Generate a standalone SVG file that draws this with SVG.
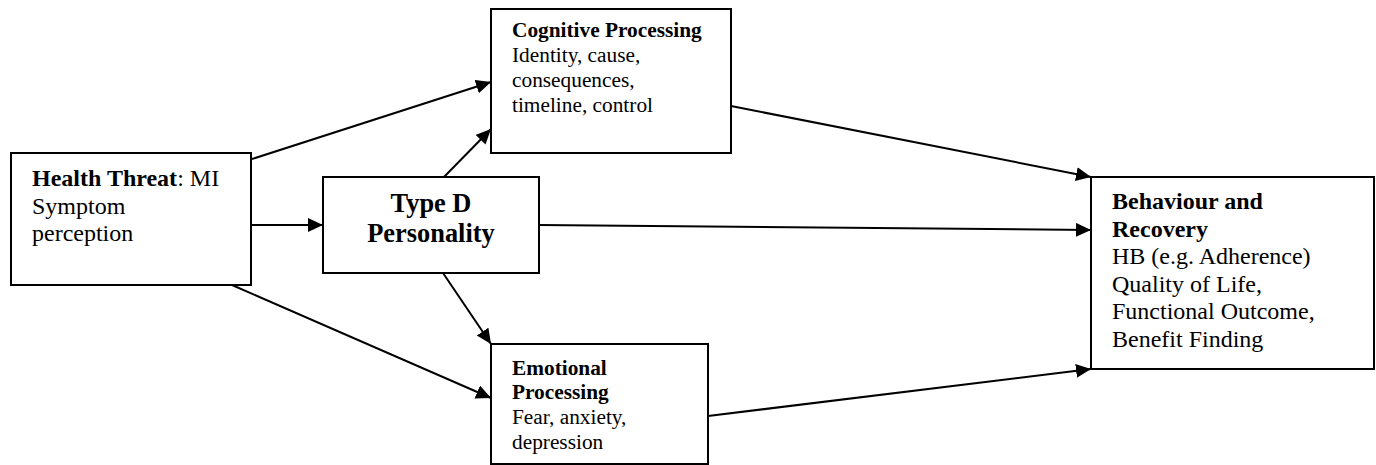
<svg xmlns="http://www.w3.org/2000/svg" width="1376" height="465" viewBox="0 0 1376 465">
  <style>
    .box { fill: #ffffff; stroke: #000000; stroke-width: 2; }
    .edge { fill: none; stroke: #000000; stroke-width: 2; marker-end: url(#arrow); }
    text { font-family: "Liberation Serif", "Times New Roman", serif; fill: #000000; }
    .b { font-weight: bold; }
    .s16 { font-size: 21.33px; }
    .s18 { font-size: 24px; }
    .big { font-size: 26.4px; font-weight: bold; }
  </style>
  <defs>
    <marker id="arrow" markerUnits="userSpaceOnUse" markerWidth="16" markerHeight="15" refX="15" refY="7" orient="auto">
      <path d="M0,0 L15,7 L0,14 z" fill="#000000"/>
    </marker>
  </defs>
  <rect width="1376" height="465" fill="#ffffff"/>

  <g id="connectors">
    <line class="edge" x1="252" y1="159" x2="491" y2="82"/>
    <line class="edge" x1="444" y1="177" x2="491" y2="129"/>
    <line class="edge" x1="251" y1="225" x2="323" y2="225"/>
    <line class="edge" x1="539" y1="225" x2="1091" y2="230"/>
    <line class="edge" x1="731" y1="106" x2="1091" y2="177"/>
    <line class="edge" x1="232" y1="285" x2="491" y2="398"/>
    <line class="edge" x1="443" y1="273" x2="491" y2="344"/>
    <line class="edge" x1="708" y1="416" x2="1091" y2="369"/>
  </g>

  <g id="health-threat">
    <rect class="box" x="11" y="153" width="240" height="132"/>
    <text class="s18" x="32" y="186"><tspan class="b">Health Threat</tspan>: MI</text>
    <text class="s18" x="32" y="213.5">Symptom</text>
    <text class="s18" x="32" y="241">perception</text>
  </g>

  <g id="type-d">
    <rect class="box" x="323" y="177" width="216" height="96"/>
    <text class="big" x="431" y="212" text-anchor="middle">Type D</text>
    <text class="big" x="431" y="242" text-anchor="middle">Personality</text>
  </g>

  <g id="cognitive">
    <rect class="box" x="491" y="9" width="240" height="144"/>
    <text class="s16 b" x="512" y="37">Cognitive Processing</text>
    <text class="s16" x="512" y="62">Identity, cause,</text>
    <text class="s16" x="512" y="87">consequences,</text>
    <text class="s16" x="512" y="112">timeline, control</text>
  </g>

  <g id="emotional">
    <rect class="box" x="491" y="344" width="217" height="120"/>
    <text class="s16 b" x="512" y="375">Emotional</text>
    <text class="s16 b" x="512" y="399">Processing</text>
    <text class="s16" x="512" y="424">Fear, anxiety,</text>
    <text class="s16" x="512" y="449">depression</text>
  </g>

  <g id="behaviour">
    <rect class="box" x="1091" y="177" width="283" height="192"/>
    <text class="s18 b" x="1112" y="209">Behaviour and</text>
    <text class="s18 b" x="1112" y="236.5">Recovery</text>
    <text class="s18" x="1112" y="264">HB (e.g. Adherence)</text>
    <text class="s18" x="1112" y="291.5">Quality of Life,</text>
    <text class="s18" x="1112" y="319">Functional Outcome,</text>
    <text class="s18" x="1112" y="346.5">Benefit Finding</text>
  </g>
</svg>
